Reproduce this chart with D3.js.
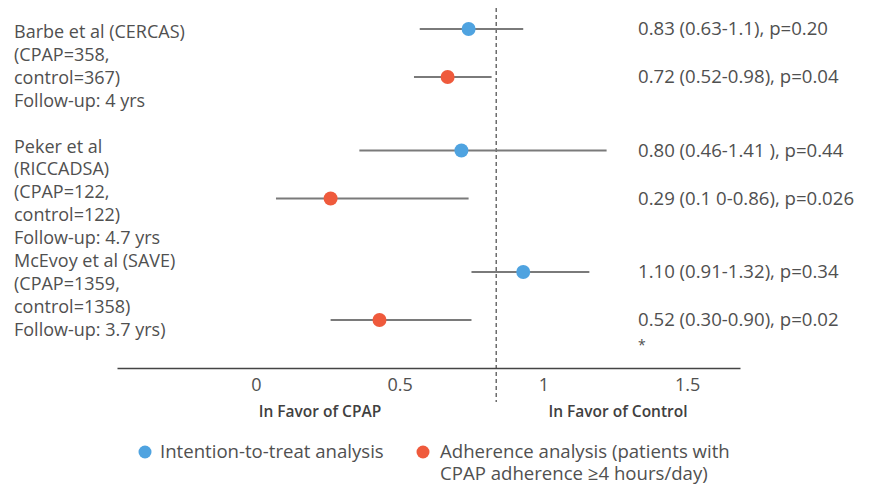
<!DOCTYPE html>
<html>
<head>
<meta charset="utf-8">
<script src="https://cdn.jsdelivr.net/npm/d3@7"></script>
<style>
  body { margin: 0; background: #fff; }
  text { font-family: "Open Sans", sans-serif; fill: #505050; }
</style>
</head>
<body>
<script>
let w = 870;
let h = 487;
let fsLeft = "18px";
let fs = "18.6px";

// studies and their label lines
var studies = ["CERCAS", "RICCADSA", "SAVE"];
var studyLabels = [
    ["Barbe et al (CERCAS)", "(CPAP=358,", "control=367)", "Follow-up: 4 yrs"],
    ["Peker et al", "(RICCADSA)", "(CPAP=122,", "control=122)", "Follow-up: 4.7 yrs"],
    ["McEvoy et al (SAVE)", "(CPAP=1359,", "control=1358)", "Follow-up: 3.7 yrs)"]
];

// estimates as placed on the plotted axis
var ittPoint = [0.74, 0.715, 0.93];
var ittLow   = [0.57, 0.36, 0.75];
var ittHigh  = [0.93, 1.22, 1.16];
var adhPoint = [0.667, 0.26, 0.43];
var adhLow   = [0.55, 0.07, 0.26];
var adhHigh  = [0.82, 0.74, 0.75];

var ittText = ["0.83 (0.63-1.1), p=0.20", "0.80 (0.46-1.41 ), p=0.44", "1.10 (0.91-1.32), p=0.34"];
var adhText = ["0.72 (0.52-0.98), p=0.04", "0.29 (0.1 0-0.86), p=0.026", "0.52 (0.30-0.90), p=0.02"];

var refLine = 0.836;
var tickValues = [0, 0.5, 1, 1.5];

var blue = "#4fa3e0";
var red = "#ef5a3c";

let svg = d3.select("body").append("svg").attr("width", w).attr("height", h);

let xScale = d3.scaleLinear().domain([-0.483, 1.684]).range([117, 740]);
let yScale = d3.scalePoint().domain(studies).range([53, 296]);
let subOffset = 24;

// left labels, one continuous list with a blank line after the first study
var lineNo = 0;
studyLabels.forEach(function(lines, i) {
    lines.forEach(function(t) {
        svg.append("text")
            .attr("x", 14)
            .attr("y", 38 + lineNo * 22.9)
            .style("font-size", fsLeft)
            .text(t);
        lineNo++;
    });
    if (i == 0) lineNo++;
});

// dashed reference line
svg.append("line")
    .attr("x1", xScale(refLine)).attr("x2", xScale(refLine))
    .attr("y1", 8).attr("y2", 402)
    .attr("stroke", "#555")
    .attr("stroke-width", 1.3)
    .attr("stroke-dasharray", "4,3");

// x axis
var xAxis = d3.axisBottom(xScale)
    .tickValues(tickValues)
    .tickSize(0)
    .tickPadding(10)
    .tickFormat(d3.format("~g"));

let axisG = svg.append("g")
    .attr("transform", "translate(0,368)")
    .call(xAxis);
axisG.select(".domain").attr("stroke", "#444").attr("stroke-width", 1.3);
axisG.selectAll(".tick text")
    .style("font-family", "'Open Sans', sans-serif")
    .style("font-size", fsLeft)
    .attr("fill", "#505050");

svg.append("text")
    .attr("x", 320).attr("y", 417)
    .style("text-anchor", "middle")
    .style("font-size", "15.5px")
    .style("font-weight", 600)
    .style("fill", "#404040")
    .text("In Favor of CPAP");

svg.append("text")
    .attr("x", 618).attr("y", 417)
    .style("text-anchor", "middle")
    .style("font-size", "15.5px")
    .style("font-weight", 600)
    .style("fill", "#404040")
    .text("In Favor of Control");

// rows
function drawRows(points, lows, highs, labels, color, offset) {
    let rows = studies.map(function(s, i) {
        return {study: s, p: points[i], lo: lows[i], hi: highs[i], label: labels[i]};
    });
    let g = svg.append("g");
    g.selectAll("line.ci")
        .data(rows)
        .enter()
        .append("line")
        .attr("class", "ci")
        .attr("x1", function(d) { return xScale(d.lo); })
        .attr("x2", function(d) { return xScale(d.hi); })
        .attr("y1", function(d) { return yScale(d.study) + offset; })
        .attr("y2", function(d) { return yScale(d.study) + offset; })
        .attr("stroke", "#7a7a7a")
        .attr("stroke-width", 2);
    g.selectAll("circle")
        .data(rows)
        .enter()
        .append("circle")
        .attr("cx", function(d) { return xScale(d.p); })
        .attr("cy", function(d) { return yScale(d.study) + offset; })
        .attr("r", 7)
        .attr("fill", color);
    g.selectAll("text")
        .data(rows)
        .enter()
        .append("text")
        .attr("x", 638)
        .attr("y", function(d) { return yScale(d.study) + offset + 6; })
        .style("font-size", fs)
        .text(function(d) { return d.label; });
}
drawRows(ittPoint, ittLow, ittHigh, ittText, blue, -subOffset);
drawRows(adhPoint, adhLow, adhHigh, adhText, red, subOffset);

// asterisk under last row
svg.append("text")
    .attr("x", 638)
    .attr("y", yScale("SAVE") + subOffset + 30)
    .style("font-size", "14px")
    .text("*");

// legend
svg.append("circle").attr("cx", 145).attr("cy", 452).attr("r", 6.5).attr("fill", blue);
svg.append("text").attr("x", 160).attr("y", 458).style("font-size", fs)
    .text("Intention-to-treat analysis");
svg.append("circle").attr("cx", 423).attr("cy", 452).attr("r", 6.5).attr("fill", red);
svg.append("text").attr("x", 440).attr("y", 458).style("font-size", fs)
    .text("Adherence analysis (patients with");
svg.append("text").attr("x", 440).attr("y", 480).style("font-size", fs)
    .text("CPAP adherence \u22654 hours/day)");
</script>
</body>
</html>
